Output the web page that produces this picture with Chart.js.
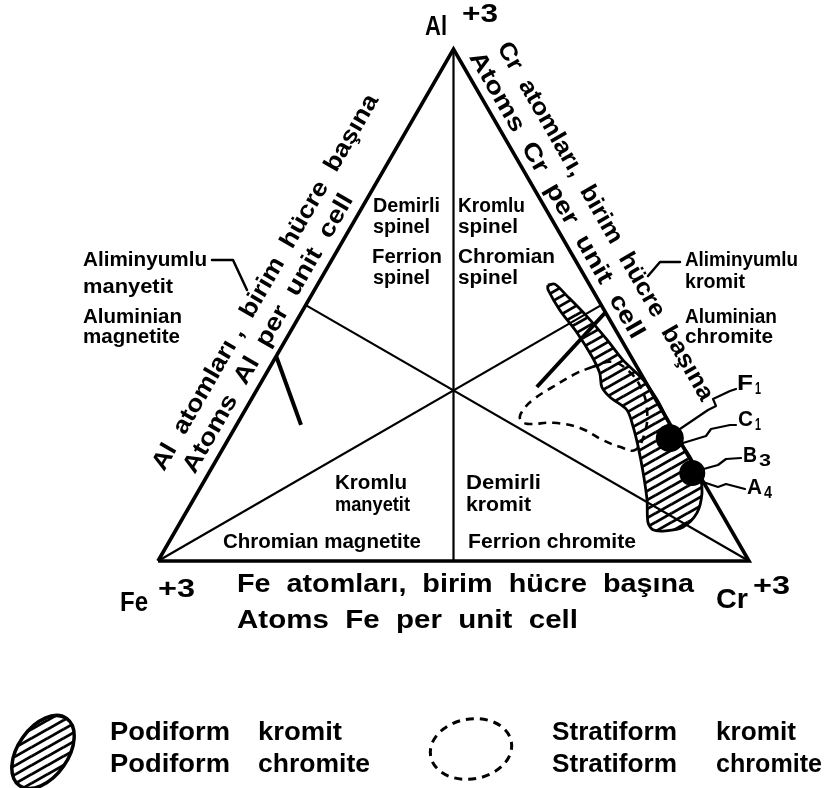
<!DOCTYPE html>
<html><head><meta charset="utf-8">
<script src="https://cdn.jsdelivr.net/npm/chart.js@4"></script>
<style>html,body{margin:0;padding:0;background:#fff}#c{display:block}</style>
</head><body>
<canvas id="c" width="827" height="788"></canvas>
<script>
// ---------- DATA (ternary fractions: Al, Cr ; Fe = 1 - Al - Cr) ----------
const cornerNames = ['Fe', 'Cr', 'Al'];
const cornerCharge = '+3';
const outlineAl = [0, 0, 1, 0];
const outlineCr = [0, 1, 0, 0];
const medianFromAl = [1, 0, 0];
const medianFromCr = [0, 0, 1];
const medianToAl = [0, 0.5, 0.5];
const medianToCr = [0.5, 0.5, 0];
const alMagnetiteAl = [0.40, 0.266];
const alMagnetiteCr = [0.00, 0.109];
const alChromiteAl = [0.340, 0.485];
const alChromiteCr = [0.471, 0.514];
const podiformAl = [0.539, 0.541, 0.518, 0.477, 0.432, 0.393, 0.354, 0.315, 0.276, 0.242, 0.203, 0.164, 0.133, 0.094, 0.066, 0.059, 0.061,
                    0.076, 0.119, 0.172, 0.223, 0.262, 0.295, 0.320, 0.340, 0.367, 0.399, 0.446, 0.490, 0.530, 0.539];
const podiformCr = [0.390, 0.401, 0.433, 0.488, 0.544, 0.590, 0.644, 0.687, 0.724, 0.757, 0.799, 0.835, 0.854, 0.865, 0.855, 0.829, 0.807,
                    0.791, 0.768, 0.735, 0.701, 0.673, 0.646, 0.605, 0.581, 0.564, 0.535, 0.486, 0.435, 0.395, 0.390];
const stratiformAl = [0.379, 0.367, 0.340, 0.315, 0.291, 0.276, 0.268, 0.270, 0.260, 0.236, 0.223, 0.217, 0.252, 0.295, 0.334, 0.369, 0.389, 0.379];
const stratiformCr = [0.545, 0.525, 0.498, 0.477, 0.470, 0.475, 0.491, 0.534, 0.584, 0.635, 0.670, 0.699, 0.698, 0.680, 0.652, 0.614, 0.574, 0.545];
const sampleDotAl = [0.240, 0.172];
const sampleDotCr = [0.746, 0.818];
const sampleNames = ['F', 'C', 'B', 'A'];
const sampleSubs = ['1', '1', '3', '4'];
const fieldLabels = {
  ferrianSpinel: ['Demirli', 'spinel', 'Ferrion', 'spinel'],
  chromianSpinel: ['Kromlu', 'spinel', 'Chromian', 'spinel'],
  chromianMagnetite: ['Kromlu', 'manyetit', 'Chromian magnetite'],
  ferrianChromite: ['Demirli', 'kromit', 'Ferrion chromite'],
  aluminianMagnetite: ['Aliminyumlu', 'manyetit', 'Aluminian', 'magnetite'],
  aluminianChromite: ['Aliminyumlu', 'kromit', 'Aluminian', 'chromite']
};
const axisTitles = {
  fe: ['Fe  atomları,  birim  hücre  başına', 'Atoms  Fe  per  unit  cell'],
  al: ['Al  atomları ,  birim  hücre  başına', 'Atoms  Al  per  unit  cell'],
  cr: ['Cr  atomları,  birim  hücre  başına', 'Atoms  Cr  per  unit  cell']
};
const legendNames = [['Podiform', 'kromit', 'chromite'], ['Stratiform', 'kromit', 'chromite']];

// ---------- helpers ----------
const H = Math.sqrt(3) / 2;
const toXY = (al, cr) => ({ x: cr + al / 2, y: al * H });
const pts = (A, C) => A.map((a, i) => toXY(a, C[i]));

function makeHatch() {
  const w = 16, h = 9;
  const c = document.createElement('canvas');
  c.width = w; c.height = h;
  const g = c.getContext('2d');
  g.strokeStyle = '#000'; g.lineWidth = 2.8;
  g.beginPath();
  for (const dx of [-w, 0, w]) for (const dy of [-h, 0, h]) {
    g.moveTo(dx, h + dy); g.lineTo(w + dx, dy);
  }
  g.stroke();
  return g.createPattern(c, 'repeat');
}
const hatch = makeHatch();

const FONT = '"Liberation Sans", Arial, sans-serif';
function put(ctx, s, x, y, size, o = {}) {
  ctx.save();
  ctx.font = `bold ${size}px ${FONT}`;
  ctx.textBaseline = 'middle';
  ctx.textAlign = 'left';
  ctx.fillStyle = '#000';
  ctx.translate(x, y);
  if (o.rot) ctx.rotate(o.rot);
  const m = ctx.measureText(s).width;
  const w = o.w || m;
  if (o.center) ctx.translate(-w / 2, 0);
  ctx.scale(w / m, 1);
  ctx.fillText(s, 0, 0);
  ctx.restore();
}
function poly(ctx, p, lw) {
  ctx.save();
  ctx.strokeStyle = '#000'; ctx.lineWidth = lw || 2.2; ctx.lineJoin = 'round'; ctx.lineCap = 'round';
  ctx.beginPath(); ctx.moveTo(p[0][0], p[0][1]);
  for (let i = 1; i < p.length; i++) ctx.lineTo(p[i][0], p[i][1]);
  ctx.stroke(); ctx.restore();
}

const textPlugin = {
  id: 'texts',
  beforeDraw(chart) {
    const ctx = chart.ctx;
    ctx.save(); ctx.fillStyle = '#fff'; ctx.fillRect(0, 0, chart.width, chart.height); ctx.restore();
  },
  afterDatasetsDraw(chart) {
    const ctx = chart.ctx, sx = chart.scales.x, sy = chart.scales.y;
    const px = (al, cr) => { const p = toXY(al, cr); return [sx.getPixelForValue(p.x), sy.getPixelForValue(p.y)]; };
    const Fe = px(0, 0), Cr = px(0, 1), Al = px(1, 0);
    function side(A, B, along, normal, s, w, size) {
      const L = Math.hypot(B[0] - A[0], B[1] - A[1]);
      const u = [(B[0] - A[0]) / L, (B[1] - A[1]) / L];
      const n = [u[1], -u[0]];
      const x = A[0] + u[0] * along + n[0] * normal;
      const y = A[1] + u[1] * along + n[1] * normal;
      put(ctx, s, x, y, size, { rot: Math.atan2(u[1], u[0]), w, center: true });
    }
    // corner labels
    put(ctx, cornerNames[2], 425, 27, 28, { w: 22 });
    put(ctx, cornerCharge, 462, 15, 25, { w: 36 });
    put(ctx, cornerNames[0], 120, 603, 28, { w: 28 });
    put(ctx, cornerCharge, 158, 590, 25, { w: 37 });
    put(ctx, cornerNames[1], 716, 600, 28, { w: 32 });
    put(ctx, cornerCharge, 753, 587, 25, { w: 37 });
    // axis titles
    put(ctx, axisTitles.fe[0], 237, 585, 25, { w: 457 });
    put(ctx, axisTitles.fe[1], 237, 621, 25, { w: 341 });
    side(Fe, Al, 295, 46, axisTitles.al[0], 430, 24);
    side(Fe, Al, 252, 18, axisTitles.al[1], 318, 24);
    side(Al, Cr, 225, 45, axisTitles.cr[0], 410, 24);
    side(Al, Cr, 178, 16, axisTitles.cr[1], 327, 24);
    // field labels
    const f = fieldLabels;
    put(ctx, f.ferrianSpinel[0], 373, 206, 20, { w: 67 });
    put(ctx, f.ferrianSpinel[1], 373, 227, 20, { w: 57 });
    put(ctx, f.ferrianSpinel[2], 372, 257, 20, { w: 70 });
    put(ctx, f.ferrianSpinel[3], 373, 278, 20, { w: 57 });
    put(ctx, f.chromianSpinel[0], 458, 206, 20, { w: 67 });
    put(ctx, f.chromianSpinel[1], 458, 227, 20, { w: 60 });
    put(ctx, f.chromianSpinel[2], 458, 257, 20, { w: 97 });
    put(ctx, f.chromianSpinel[3], 458, 278, 20, { w: 60 });
    put(ctx, f.chromianMagnetite[0], 335, 483, 20, { w: 72 });
    put(ctx, f.chromianMagnetite[1], 335, 505, 20, { w: 75 });
    put(ctx, f.chromianMagnetite[2], 223, 542, 20, { w: 198 });
    put(ctx, f.ferrianChromite[0], 466, 483, 20, { w: 75 });
    put(ctx, f.ferrianChromite[1], 466, 505, 20, { w: 65 });
    put(ctx, f.ferrianChromite[2], 468, 542, 20, { w: 168 });
    put(ctx, f.aluminianMagnetite[0], 83, 260, 20, { w: 124 });
    put(ctx, f.aluminianMagnetite[1], 83, 287, 20, { w: 90 });
    put(ctx, f.aluminianMagnetite[2], 83, 317, 20, { w: 99 });
    put(ctx, f.aluminianMagnetite[3], 83, 337, 20, { w: 97 });
    put(ctx, f.aluminianChromite[0], 685, 260, 20, { w: 113 });
    put(ctx, f.aluminianChromite[1], 685, 282, 20, { w: 60 });
    put(ctx, f.aluminianChromite[2], 685, 317, 20, { w: 92 });
    put(ctx, f.aluminianChromite[3], 685, 337, 20, { w: 88 });
    poly(ctx, [[212, 260], [233, 260], [247, 290]], 2.5);
    poly(ctx, [[680, 262], [660, 262], [648, 276]], 2.5);
    // sample labels + leaders
    const labPos = [[737, 384], [738, 420], [743, 456], [747, 488]];
    const subW = [[16, 6], [15, 6], [14, 12], [15, 8]];
    sampleNames.forEach((s, i) => {
      put(ctx, s, labPos[i][0], labPos[i][1], 22, { w: subW[i][0] });
      put(ctx, sampleSubs[i], labPos[i][0] + subW[i][0] + 2, labPos[i][1] + 6, 16, { w: subW[i][1] });
    });
    poly(ctx, [[677, 431], [708, 410], [716, 406], [713, 399], [730, 391], [736, 389]]);
    poly(ctx, [[683, 443], [706, 436], [711, 429], [730, 425], [736, 425]]);
    poly(ctx, [[700, 470], [718, 465], [726, 459], [741, 458]]);
    poly(ctx, [[703, 482], [718, 487], [726, 484], [745, 489]]);
    // legend
    ctx.save();
    ctx.beginPath(); ctx.ellipse(43, 752, 41, 25, -55 * Math.PI / 180, 0, Math.PI * 2);
    ctx.fillStyle = hatch; ctx.fill();
    ctx.lineWidth = 3.5; ctx.strokeStyle = '#000'; ctx.stroke();
    ctx.beginPath(); ctx.ellipse(471, 749, 41, 30, -10 * Math.PI / 180, 0, Math.PI * 2);
    ctx.setLineDash([8, 6]); ctx.lineWidth = 3; ctx.stroke();
    ctx.restore();
    put(ctx, legendNames[0][0], 110, 733, 25, { w: 120 });
    put(ctx, legendNames[0][1], 258, 733, 25, { w: 84 });
    put(ctx, legendNames[0][0], 110, 765, 25, { w: 120 });
    put(ctx, legendNames[0][2], 258, 765, 25, { w: 112 });
    put(ctx, legendNames[1][0], 552, 733, 25, { w: 125 });
    put(ctx, legendNames[1][1], 716, 733, 25, { w: 80 });
    put(ctx, legendNames[1][0], 552, 765, 25, { w: 125 });
    put(ctx, legendNames[1][2], 716, 765, 25, { w: 106 });
  }
};

const lineDS = (data, w, extra) => Object.assign({
  data, showLine: true, pointRadius: 0, borderColor: '#000', borderWidth: w,
  backgroundColor: 'transparent', fill: false, tension: 0, borderJoinStyle: 'miter', clip: false
}, extra || {});

const datasets = [
  lineDS(pts(stratiformAl, stratiformCr), 2.6, { tension: 0.4, borderDash: [8, 6], order: 6 }),
  lineDS(pts(podiformAl, podiformCr), 2.8, { tension: 0.3, fill: 'shape', backgroundColor: hatch, order: 5, borderJoinStyle: 'round' }),
  lineDS(pts(outlineAl, outlineCr), 3.6, { order: 3 }),
  ...medianFromAl.map((a, i) => lineDS(pts([a, medianToAl[i]], [medianFromCr[i], medianToCr[i]]), 2.2, { order: 4 })),
  lineDS(pts(alMagnetiteAl, alMagnetiteCr), 4, { order: 2 }),
  lineDS(pts(alChromiteAl, alChromiteCr), 4, { order: 2 }),
  { data: pts(sampleDotAl, sampleDotCr), showLine: false, pointRadius: [14, 13], pointBackgroundColor: '#000', pointBorderWidth: 0, order: 1, clip: false }
];

new Chart(document.getElementById('c'), {
  type: 'scatter',
  data: { datasets },
  options: {
    responsive: false, animation: false, devicePixelRatio: 1, events: [],
    layout: { padding: 0, autoPadding: false },
    plugins: { legend: { display: false }, tooltip: { enabled: false } },
    scales: {
      x: { type: 'linear', min: -0.26734, max: 1.13198, display: false },
      y: { type: 'linear', min: -0.38409, max: 0.94924, display: false }
    }
  },
  plugins: [textPlugin]
});
</script>
</body></html>
